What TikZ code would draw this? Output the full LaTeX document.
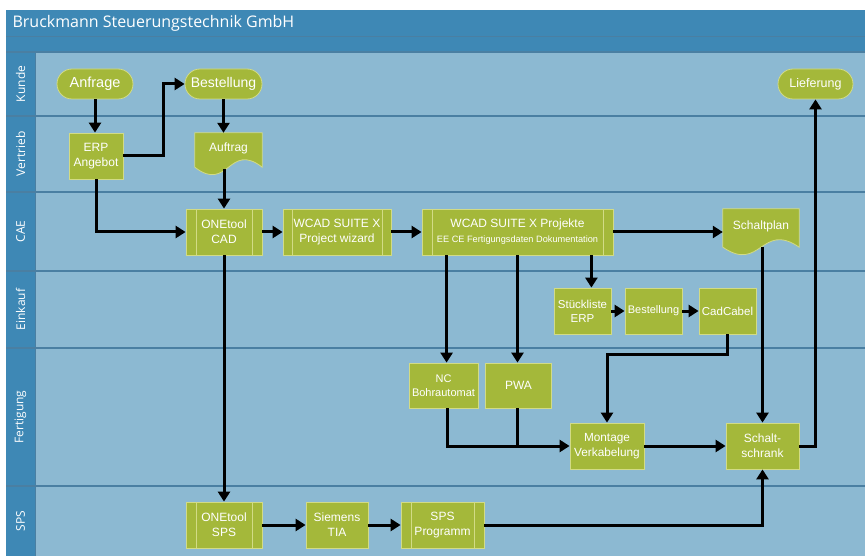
\documentclass[tikz,border=0pt]{standalone}
\usepackage{fontspec}
\setmainfont{Liberation Sans}
\newfontfamily\headfont{Open Sans}
\usetikzlibrary{arrows.meta}
\definecolor{hdr}{HTML}{3E88B5}
\definecolor{lanebg}{HTML}{8CB9D2}
\definecolor{sep}{HTML}{4A7FA2}
\definecolor{grn}{HTML}{A4B83A}
\definecolor{grnb}{HTML}{D2DB86}
\pgfdeclarelayer{bg}
\pgfsetlayers{bg,main}
\newcommand{\fs}[2]{\fontsize{#1}{#2}\selectfont}
\begin{document}
\begin{tikzpicture}[x=1pt,y=-1pt,
  box/.style={draw=grnb, line width=0.8pt, fill=grn, text=white, align=center, inner sep=0pt, font=\fontsize{12}{15}\selectfont},
  term/.style={box, rounded corners=15pt, minimum height=30pt},
  proc/.style={box, minimum height=46pt},
  pre/.style={proc, path picture={\draw[grnb, line width=0.8pt]
     ([xshift=#1]path picture bounding box.north west) -- ([xshift=#1]path picture bounding box.south west)
     ([xshift=-#1]path picture bounding box.north east) -- ([xshift=-#1]path picture bounding box.south east);}},
  docnode/.style={text=white, align=center, inner sep=0pt, font=\fontsize{12}{15}\selectfont},
  docshape/.style={fill=grn, draw=grnb, line width=0.8pt},
  flow/.style={line width=3pt, -{Triangle[length=10pt,width=12pt]}},
  ln/.style={line width=3pt},
  lanelab/.style={text=white, rotate=90, font=\headfont\fontsize{12}{14}\selectfont},
]
\useasboundingbox (0,0) rectangle (865,556);
\begin{pgfonlayer}{bg}
\fill[white] (0,0) rectangle (865,556);
% bars and lanes
\fill[hdr] (6,10) rectangle (865,52);
\fill[hdr] (6,52) rectangle (35,556);
\fill[lanebg] (35,52) rectangle (865,556);
\draw[sep, line width=1.2pt] (6,36.5) -- (865,36.5);
\draw[sep, line width=1.2pt] (6,52) -- (865,52);
\draw[sep, line width=1pt] (35,52) -- (35,556);
\foreach \yy in {116,192,271,348,486} {\draw[sep, line width=1.2pt] (6,\yy) -- (865,\yy);}
\end{pgfonlayer}
\node[anchor=west, text=white, font=\headfont\fontsize{16}{19}\selectfont] (title) at (9,23) {Bruckmann Steuerungstechnik GmbH};
\node[lanelab] (lkunde) at (20.5,84) {Kunde};
\node[lanelab] (lvertrieb) at (20.5,154) {Vertrieb};
\node[lanelab] (lcae) at (20.5,231.5) {CAE};
\node[lanelab] (leinkauf) at (20.5,309.5) {Einkauf};
\node[lanelab] (lfert) at (20.5,417) {Fertigung};
\node[lanelab] (lsps) at (20.5,521) {SPS};

% nodes
\node[term, minimum width=76pt, font=\fs{14.5}{17}] (anf) at (95,84) {Anfrage};
\node[term, minimum width=77pt, font=\fs{14}{17}] (best1) at (223.5,84) {Bestellung};
\node[term, minimum width=75pt, font=\fs{12.5}{15}] (lief) at (815.5,84) {Lieferung};
\node[proc, minimum width=54pt] (erp) at (96,156) {ERP\\Angebot};
\node[docnode, minimum width=67pt, minimum height=30pt] (auf) at (228.5,148) {Auftrag};
\node[pre=10pt, minimum width=76pt] (cad) at (224,232) {ONEtool\\CAD};
\node[pre=9pt, minimum width=108pt] (wiz) at (337,232) {WCAD SUITE X\\Project wizard};
\node[pre=10pt, minimum width=191pt] (proj) at (517.5,232) {WCAD SUITE X Projekte\\{\fs{9.2}{11}EE CE Fertigungsdaten Dokumentation}};
\node[docnode, minimum width=76pt, minimum height=34pt] (splan) at (761,226) {Schaltplan};
\node[proc, minimum width=57pt, font=\fs{11.5}{14}] (stk) at (582.5,311) {Stückliste\\ERP};
\node[proc, minimum width=57pt, font=\fs{11}{14}] (best2) at (653.5,311) {Bestellung};
\node[proc, minimum width=57pt, font=\fs{11.5}{14}] (cadc) at (727.5,311) {CadCabel};
\node[proc, minimum width=69pt, minimum height=45pt, font=\fs{11}{14}] (nc) at (443.5,385.5) {NC\\Bohrautomat};
\node[proc, minimum width=66pt, minimum height=45pt] (pwa) at (518.5,385.5) {PWA};
\node[proc, minimum width=74pt, font=\fs{11.8}{15}] (mont) at (607,446) {Montage\\Verkabelung};
\node[proc, minimum width=73pt] (schr) at (762.5,446) {Schalt-\\schrank};
\node[pre=10pt, minimum width=76pt] (osps) at (224,525) {ONEtool\\SPS};
\node[proc, minimum width=62pt] (tia) at (337,525) {Siemens\\TIA};
\node[pre=10pt, minimum width=83pt] (prog) at (442.5,525) {SPS\\Programm};

% document shapes
\begin{pgfonlayer}{bg}
\path[docshape] (auf.north west) -- (auf.north east) -- ([yshift=-4pt]auf.south east)
  .. controls +(-33.5,-26) and +(33.5,26) .. ([yshift=-4pt]auf.south west) -- cycle;
\path[docshape] (splan.north west) -- (splan.north east) -- ([yshift=-4pt]splan.south east)
  .. controls +(-38,-26) and +(38,26) .. ([yshift=-4pt]splan.south west) -- cycle;
\end{pgfonlayer}

% connectors
\draw[flow] (anf.south) -- (anf.south |- erp.north);
\draw[flow] (erp.east) -- ++(40,0) |- (best1.west);
\draw[flow] (best1.south) -- (best1.south |- auf.north);
\draw[flow] ([yshift=-6pt]cad.north |- auf.south) -- (cad.north);
\draw[flow] (erp.south) |- (cad.west);
\draw[flow] (cad.east) -- (wiz.west);
\draw[flow] (wiz.east) -- (proj.west);
\draw[flow] (proj.east) -- (proj.east -| splan.west);
\draw[flow] ([xshift=-22pt]proj.south east) -- ([xshift=-22pt]proj.south east |- stk.north);
\draw[flow] ([xshift=25pt]proj.south west) -- ([xshift=25pt]proj.south west |- nc.north);
\draw[flow] (proj.south) -- (proj.south |- pwa.north);
\draw[flow] (stk.east) -- (best2.west);
\draw[flow] (best2.east) -- (cadc.west);
\draw[flow] (cadc.south) -- ++(0,20) -| (mont.north);
\draw[flow] ([xshift=3.5pt]nc.south) |- (mont.west);
\draw[ln] ([xshift=-1.5pt]pwa.south) -- ([xshift=-1.5pt]pwa.south |- mont.west);
\draw[flow] (mont.east) -- (schr.west);
\draw[flow] ([yshift=-4pt]schr.north |- splan.south) -- (schr.north);
\draw[flow] (schr.east) -| (lief.south);
\draw[flow] (prog.east) -| (schr.south);
\draw[flow] (cad.south) -- (osps.north);
\draw[flow] (osps.east) -- (tia.west);
\draw[flow] (tia.east) -- (prog.west);
\end{tikzpicture}
\end{document}
